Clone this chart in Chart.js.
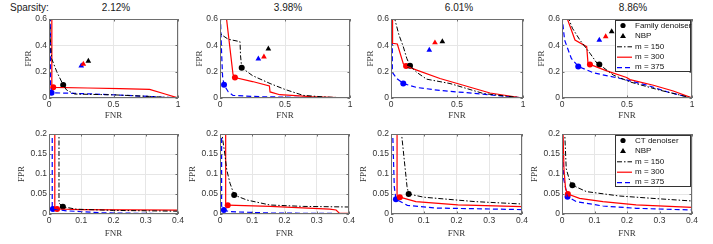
<!DOCTYPE html>
<html>
<head>
<meta charset="utf-8">
<script src="https://cdn.jsdelivr.net/npm/chart.js@4.4.0/dist/chart.umd.min.js"></script>
<style>
body { margin: 0; background: #fff; width: 713px; height: 244px; position: relative; overflow: hidden; font-family: "Liberation Sans", Arial, sans-serif; }
canvas { position: absolute; }
.ttl { position: absolute; top: 2px; font-size: 10px; color: #1a1a1a; white-space: nowrap; }
</style>
</head>
<body>
<div class="ttl" style="left:10px">Sparsity:</div>
<div class="ttl" id="t0"></div>
<div class="ttl" id="t1"></div>
<div class="ttl" id="t2"></div>
<div class="ttl" id="t3"></div>
<script>
// panel titles
const sparsity = ["2.12%", "3.98%", "6.01%", "8.86%"];
const seriesNames = ["m = 150", "m = 300", "m = 375"];

// tick labels
const xTicksTop = [0, 0.5, 1];
const yTicksTop = [0, 0.2, 0.4, 0.6];
const xTicksBottom = [0, 0.1, 0.2, 0.3, 0.4];
const yTicksBottom = [0, 0.05, 0.1, 0.15, 0.2];

// family denoiser curves, [FNR, FPR], one list per sparsity
const fam150 = [
  [[0.005,0.62],[0.01,0.45],[0.02,0.3],[0.06,0.2],[0.11,0.099],[0.137,0.06],[0.2,0.03],[0.5,0.024],[0.78,0.012],[1,0]],
  [[0,0.62],[0,0.5],[0.012,0.48],[0.064,0.446],[0.154,0.428],[0.158,0.32],[0.167,0.23],[0.25,0.17],[0.385,0.11],[0.5,0.065],[0.64,0.02],[0.8,0.008],[1,0]],
  [[0.023,0.62],[0.06,0.48],[0.093,0.39],[0.12,0.3],[0.144,0.245],[0.195,0.195],[0.27,0.143],[0.447,0.11],[0.7,0.034],[1,0]],
  [[0.045,0.62],[0.08,0.53],[0.138,0.44],[0.215,0.34],[0.27,0.263],[0.287,0.255],[0.395,0.174],[0.523,0.122],[0.754,0.059],[1,0]]
];
const fam300 = [
  [[0.022,0.62],[0.022,0.085],[0.033,0.081],[0.3,0.076],[0.55,0.071],[0.78,0.066],[0.9,0.03],[1,0]],
  [[0.048,0.62],[0.1,0.18],[0.115,0.156],[0.25,0.125],[0.38,0.092],[0.385,0.046],[0.46,0.025],[0.7,0.01],[1,0]],
  [[0.012,0.62],[0.012,0.416],[0.048,0.41],[0.093,0.26],[0.114,0.243],[0.195,0.212],[0.371,0.148],[0.548,0.097],[0.75,0.038],[1,0]],
  [[0.034,0.62],[0.1,0.44],[0.19,0.39],[0.2,0.263],[0.215,0.255],[0.344,0.206],[0.497,0.156],[0.523,0.14],[0.703,0.097],[0.856,0.053],[1,0]]
];
const fam375 = [
  [[0.01,0.62],[0.012,0.1],[0.02,0.04],[0.3,0.032],[0.6,0.02],[0.8,0.01],[1,0]],
  [[0.003,0.62],[0.012,0.35],[0.02,0.16],[0.031,0.1],[0.064,0.046],[0.1,0.02],[0.3,0.01],[0.6,0.005],[1,0]],
  [[0.01,0.62],[0.01,0.195],[0.043,0.148],[0.093,0.11],[0.195,0.08],[0.371,0.057],[0.626,0.036],[1,0]],
  [[0,0.62],[0.02,0.44],[0.072,0.3],[0.125,0.24],[0.246,0.19],[0.45,0.148],[0.656,0.097],[0.81,0.046],[1,0]]
];
const famDot150 = [[0.11,0.099],[0.167,0.23],[0.144,0.245],[0.287,0.255]];
const famDot300 = [[0.033,0.081],[0.115,0.156],[0.114,0.243],[0.215,0.255]];
const famDot375 = [[0.02,0.04],[0.031,0.1],[0.093,0.11],[0.125,0.24]];
const nbp150 = [[0.305,0.28],[0.372,0.374],[0.389,0.428],[0.382,0.504]];
const nbp300 = [[0.266,0.258],[0.338,0.313],[0.333,0.42],[0.336,0.466]];
const nbp375 = [[0.25,0.245],[0.295,0.297],[0.29,0.364],[0.287,0.44]];

// CT denoiser curves
const ct150 = [
  [[0.031,0.21],[0.031,0.027],[0.043,0.018],[0.085,0.012],[0.2,0.009],[0.4,0.007]],
  [[0.004,0.21],[0.015,0.15],[0.021,0.11],[0.031,0.077],[0.044,0.0475],[0.083,0.035],[0.155,0.0225],[0.258,0.019],[0.4,0.0175]],
  [[0.031,0.21],[0.049,0.068],[0.054,0.05],[0.1,0.042],[0.256,0.031],[0.4,0.025]],
  [[0.008,0.21],[0.013,0.113],[0.023,0.085],[0.032,0.072],[0.075,0.056],[0.177,0.045],[0.28,0.039],[0.4,0.0325]]
];
const ct300 = [
  [[0.018,0.21],[0.018,0.015],[0.025,0.0125],[0.1,0.011],[0.4,0.0095]],
  [[0.0176,0.21],[0.0176,0.025],[0.024,0.022],[0.155,0.019],[0.34,0.012],[0.36,0.01],[0.37,0.002],[0.4,0.0015]],
  [[0.0185,0.21],[0.0185,0.045],[0.027,0.042],[0.076,0.031],[0.204,0.023],[0.4,0.0183]],
  [[0.003,0.21],[0.006,0.113],[0.011,0.063],[0.018,0.05],[0.054,0.039],[0.126,0.031],[0.228,0.023],[0.4,0.0165]]
];
const ct375 = [
  [[0.01,0.21],[0.01,0.015],[0.012,0.0125],[0.054,0.008],[0.16,0.003],[0.4,0.0005]],
  [[0.005,0.21],[0.005,0.02],[0.012,0.01],[0.03,0.0058],[0.155,0.0025],[0.4,0.001]],
  [[0.005,0.21],[0.01,0.068],[0.015,0.037],[0.05,0.0217],[0.133,0.015],[0.4,0.011]],
  [[0.001,0.21],[0.005,0.088],[0.017,0.043],[0.044,0.031],[0.126,0.02],[0.228,0.0142],[0.4,0.01]]
];
const ctDot150 = [[0.043,0.018],[0.044,0.0475],[0.054,0.05],[0.032,0.072]];
const ctDot300 = [[0.025,0.0125],[0.024,0.022],[0.027,0.042],[0.018,0.05]];
const ctDot375 = [[0.012,0.0125],[0.012,0.01],[0.015,0.037],[0.017,0.043]];

// plot boxes on the page: left, top, right, bottom
const rects = [[49,19,178,98],[220,19,350,98],[391,19,523,98],[562,19,692,98],
               [49,134,178,214],[220,134,349,214],[391,134,522,214],[562,134,692,214]];
const titleX = [116, 288, 459, 633];

const COLS = ['#000000', '#ff0000', '#0000ff'];
const DASH = [[5,2,1.5,2], [], [5,3]];
const WID = [1, 1.2, 1.2];

sparsity.forEach((s, i) => {
  const el = document.getElementById('t' + i);
  el.textContent = s;
  el.style.left = titleX[i] + 'px';
  el.style.transform = 'translateX(-50%)';
});

const pts = a => a.map(p => ({x: p[0], y: p[1]}));

const boxPlugin = {
  id: 'box',
  afterDatasetsDraw(chart, args, opts) {
    const {ctx, chartArea: a, scales} = chart;
    ctx.save();
    ctx.strokeStyle = '#6e6e6e';
    ctx.lineWidth = 1;
    ctx.strokeRect(a.left + 0.5, a.top + 0.5, a.right - a.left - 1, a.bottom - a.top - 1);
    ctx.beginPath();
    scales.x.ticks.forEach(t => {
      const px = Math.round(scales.x.getPixelForValue(t.value)) + 0.5;
      ctx.moveTo(px, a.bottom); ctx.lineTo(px, a.bottom - 2.5);
      ctx.moveTo(px, a.top); ctx.lineTo(px, a.top + 2.5);
    });
    scales.y.ticks.forEach(t => {
      const py = Math.round(scales.y.getPixelForValue(t.value)) + 0.5;
      ctx.moveTo(a.left, py); ctx.lineTo(a.left + 2.5, py);
      ctx.moveTo(a.right, py); ctx.lineTo(a.right - 2.5, py);
    });
    ctx.stroke();

    if (opts.legend) {
      const L = a.right - 77, T = a.top + 1, W = 76, H = 52;
      ctx.fillStyle = '#fff';
      ctx.fillRect(L, T, W, H);
      ctx.strokeStyle = '#333';
      ctx.strokeRect(L + 0.5, T + 0.5, W - 1, H - 1);
      ctx.font = '8px "Liberation Sans", Arial, sans-serif';
      ctx.textBaseline = 'middle';
      opts.legend.forEach((txt, k) => {
        const y = T + 5.5 + k * 10.4;
        ctx.fillStyle = '#000';
        ctx.strokeStyle = '#000';
        if (k === 0) {
          ctx.beginPath(); ctx.arc(L + 8, y, 2.6, 0, Math.PI * 2); ctx.fill();
        } else if (k === 1) {
          ctx.beginPath(); ctx.moveTo(L + 8, y - 3); ctx.lineTo(L + 11, y + 2.2); ctx.lineTo(L + 5, y + 2.2); ctx.closePath(); ctx.fill();
        } else {
          const j = k - 2;
          ctx.strokeStyle = COLS[j];
          ctx.lineWidth = WID[j];
          ctx.setLineDash(DASH[j]);
          ctx.beginPath(); ctx.moveTo(L + 2, y + 0.5); ctx.lineTo(L + 17, y + 0.5); ctx.stroke();
          ctx.setLineDash([]);
        }
        ctx.fillStyle = '#111';
        ctx.fillText(txt, L + 20, y);
      });
    }
    ctx.restore();
  }
};

function makePanel(idx, cfg) {
  const r = rects[idx];
  const cv = document.createElement('canvas');
  const w = r[2] - r[0] + 52, h = r[3] - r[1] + 40;
  cv.width = w; cv.height = h;
  cv.style.left = (r[0] - 40) + 'px';
  cv.style.top = (r[1] - 12) + 'px';
  cv.style.width = w + 'px'; cv.style.height = h + 'px';
  document.body.appendChild(cv);

  const ds = [];
  cfg.curves.forEach((c, j) => ds.push({
    data: pts(c), showLine: true, borderColor: COLS[j], borderWidth: WID[j],
    borderDash: DASH[j], pointRadius: 0, fill: false, tension: 0
  }));
  cfg.dots.forEach((d, j) => ds.push({
    data: pts([d]), pointStyle: 'circle', pointRadius: 3,
    backgroundColor: COLS[j], borderColor: COLS[j], borderWidth: 0
  }));
  (cfg.tris || []).forEach((d, j) => ds.push({
    data: pts([d]), pointStyle: 'triangle', pointRadius: 3.3,
    backgroundColor: COLS[j], borderColor: COLS[j], borderWidth: 0
  }));

  const tickFont = {family: '"Liberation Sans", Arial, sans-serif', size: 8.5};
  const labFont = {family: '"Liberation Serif", "Times New Roman", serif', size: 9};
  const fmt = v => String(+(+v).toFixed(3));

  new Chart(cv, {
    type: 'scatter',
    data: {datasets: ds},
    options: {
      responsive: false, animation: false, events: [], devicePixelRatio: 1,
      layout: {padding: {left: 0, top: 12, right: 12, bottom: 0}},
      plugins: {legend: {display: false}, tooltip: {enabled: false}, box: {legend: cfg.legend}},
      scales: {
        x: {
          type: 'linear', min: 0, max: cfg.xMax,
          afterFit: s => { s.height = 28; },
          afterBuildTicks: s => { s.ticks = cfg.xTicks.map(v => ({value: v})); },
          ticks: {font: tickFont, color: '#333', padding: 2, maxRotation: 0, callback: fmt},
          grid: {color: '#e6e6e6', drawTicks: false},
          border: {display: false},
          title: {display: true, text: 'FNR', font: labFont, color: '#333', padding: {top: 0, bottom: cfg.xTitlePad}}
        },
        y: {
          type: 'linear', min: 0, max: cfg.yMax,
          afterFit: s => { s.width = 40; },
          afterBuildTicks: s => { s.ticks = cfg.yTicks.map(v => ({value: v})); },
          ticks: {font: tickFont, color: '#333', padding: 2, callback: fmt},
          grid: {color: '#e6e6e6', drawTicks: false},
          border: {display: false},
          title: {display: true, text: 'FPR', font: labFont, color: '#333', padding: {top: cfg.yTitlePad, bottom: 0}}
        }
      }
    },
    plugins: [boxPlugin]
  });
}

for (let i = 0; i < 4; i++) {
  makePanel(i, {
    curves: [fam150[i], fam300[i], fam375[i]],
    dots: [famDot150[i], famDot300[i], famDot375[i]],
    tris: [nbp150[i], nbp300[i], nbp375[i]],
    xMax: 1, yMax: 0.6, xTicks: xTicksTop, yTicks: yTicksTop,
    xTitlePad: 4.6, yTitlePad: 14.6,
    legend: i === 3 ? ['Family denoiser', 'NBP'].concat(seriesNames) : null
  });
  makePanel(i + 4, {
    curves: [ct150[i], ct300[i], ct375[i]],
    dots: [ctDot150[i], ctDot300[i], ctDot375[i]],
    xMax: 0.4, yMax: 0.2, xTicks: xTicksBottom, yTicks: yTicksBottom,
    xTitlePad: 3.1, yTitlePad: 7.6,
    legend: i === 3 ? ['CT denoiser', 'NBP'].concat(seriesNames) : null
  });
}
</script>
</body>
</html>
